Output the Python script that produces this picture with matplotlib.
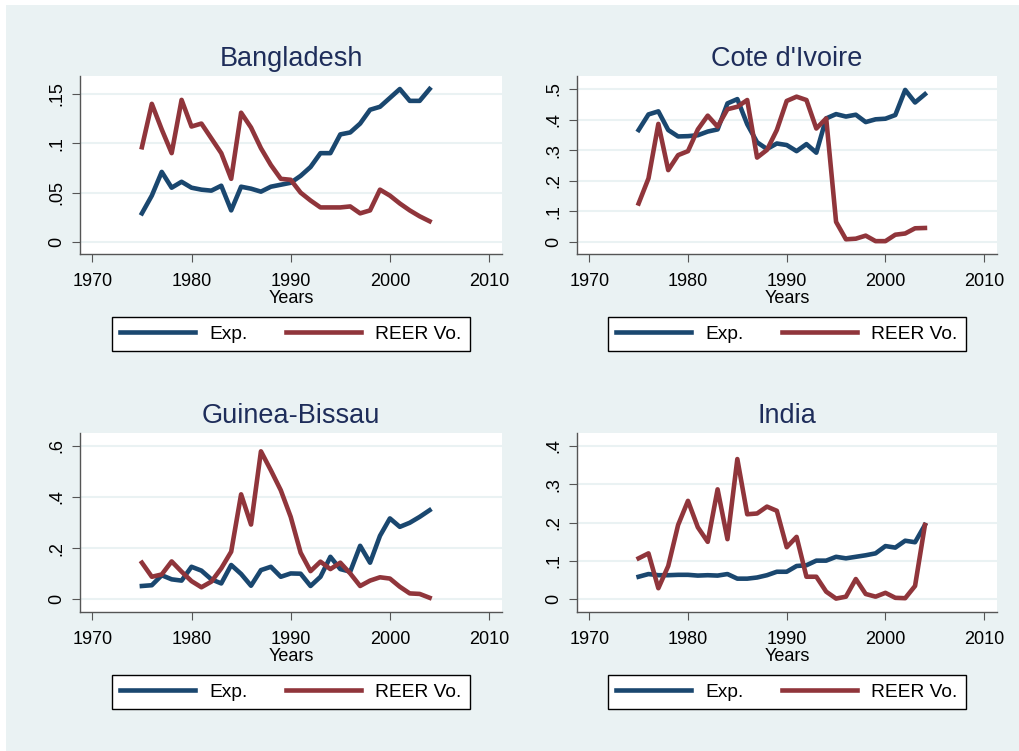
import numpy as np
import matplotlib
matplotlib.use("Agg")
import matplotlib.pyplot as plt
from matplotlib.patches import Rectangle

plt.rcParams['font.family'] = ['Liberation Sans', 'DejaVu Sans']

years = np.arange(1975, 2005)

countries = ["Bangladesh", "Cote d'Ivoire", "Guinea-Bissau", "India"]

bgd_exp = [0.029, 0.047, 0.071, 0.055, 0.061, 0.055, 0.053, 0.052, 0.057, 0.032,
           0.056, 0.054, 0.051, 0.056, 0.058, 0.060, 0.067, 0.076, 0.090, 0.090,
           0.109, 0.111, 0.120, 0.134, 0.137, 0.146, 0.155, 0.143, 0.143, 0.155]
bgd_reer = [0.096, 0.140, 0.114, 0.090, 0.144, 0.117, 0.120, 0.105, 0.090, 0.064,
            0.131, 0.116, 0.095, 0.078, 0.064, 0.063, 0.050, 0.042, 0.035, 0.035,
            0.035, 0.036, 0.029, 0.032, 0.053, 0.047, 0.039, 0.032, 0.026, 0.021]

civ_exp = [0.366, 0.417, 0.427, 0.366, 0.345, 0.346, 0.349, 0.361, 0.368, 0.453,
           0.467, 0.385, 0.326, 0.304, 0.322, 0.317, 0.297, 0.320, 0.292, 0.404,
           0.418, 0.410, 0.416, 0.392, 0.401, 0.403, 0.415, 0.497, 0.456, 0.483]
civ_reer = [0.126, 0.208, 0.386, 0.235, 0.284, 0.297, 0.368, 0.413, 0.377, 0.434,
            0.442, 0.464, 0.276, 0.301, 0.366, 0.461, 0.475, 0.464, 0.371, 0.404,
            0.066, 0.009, 0.011, 0.021, 0.003, 0.003, 0.024, 0.028, 0.045, 0.046]

gnb_exp = [0.052, 0.055, 0.094, 0.078, 0.073, 0.127, 0.112, 0.078, 0.062, 0.134,
           0.099, 0.053, 0.114, 0.127, 0.088, 0.101, 0.100, 0.052, 0.088, 0.166,
           0.118, 0.108, 0.209, 0.143, 0.248, 0.316, 0.283, 0.299, 0.322, 0.348]
gnb_reer = [0.143, 0.088, 0.097, 0.148, 0.108, 0.071, 0.047, 0.069, 0.121, 0.186,
            0.410, 0.292, 0.578, 0.504, 0.426, 0.322, 0.182, 0.110, 0.147, 0.118,
            0.143, 0.101, 0.052, 0.073, 0.086, 0.081, 0.049, 0.023, 0.021, 0.006]

ind_exp = [0.059, 0.066, 0.063, 0.063, 0.064, 0.064, 0.062, 0.063, 0.062, 0.066,
           0.054, 0.054, 0.057, 0.063, 0.072, 0.072, 0.087, 0.089, 0.101, 0.101,
           0.111, 0.107, 0.111, 0.115, 0.120, 0.139, 0.135, 0.153, 0.149, 0.194]
ind_reer = [0.107, 0.120, 0.029, 0.087, 0.194, 0.257, 0.188, 0.150, 0.287, 0.157,
            0.366, 0.222, 0.224, 0.242, 0.231, 0.136, 0.163, 0.059, 0.059, 0.020,
            0.002, 0.007, 0.053, 0.014, 0.007, 0.017, 0.004, 0.003, 0.035, 0.194]

exp_series = [bgd_exp, civ_exp, gnb_exp, ind_exp]
reer_series = [bgd_reer, civ_reer, gnb_reer, ind_reer]

yticks = [[0, 0.05, 0.1, 0.15], [0, 0.1, 0.2, 0.3, 0.4, 0.5],
          [0, 0.2, 0.4, 0.6], [0, 0.1, 0.2, 0.3, 0.4]]
ytick_labels = [["0", ".05", ".1", ".15"], ["0", ".1", ".2", ".3", ".4", ".5"],
                ["0", ".2", ".4", ".6"], ["0", ".1", ".2", ".3", ".4"]]
ylims = [(-0.0122, 0.1682), (-0.039, 0.5425), (-0.0496, 0.6496), (-0.033, 0.434)]
xticks = [1970, 1980, 1990, 2000, 2010]

W, H = 1019, 751
BG = "#eaf2f3"
BLUE = "#1a476f"
RED = "#90353b"
TITLE = "#1e2d5a"

fig = plt.figure(figsize=(W / 100, H / 100), dpi=100, facecolor="white")
fig.patches.append(Rectangle((6 / W, 0), 1 - 6 / W, 1 - 5 / H, transform=fig.transFigure,
                             facecolor=BG, edgecolor="none", zorder=-10))

# axes boxes in pixels: left, top, right, bottom
boxes = [(80, 76, 502, 254), (577, 76, 997, 254),
         (80, 433, 502, 612), (577, 433, 997, 612)]

for i, (l, t, r, b) in enumerate(boxes):
    ax = fig.add_axes([l / W, 1 - b / H, (r - l) / W, (b - t) / H])
    ax.set_facecolor("white")
    ax.plot(years, exp_series[i], color=BLUE, lw=3.3, solid_joinstyle="round", label="Exp.")
    ax.plot(years, reer_series[i], color=RED, lw=3.3, solid_joinstyle="round", label="REER Vo.")
    ax.set_xlim(1968.76, 2011.3)
    ax.set_ylim(*ylims[i])
    ax.set_xticks(xticks)
    ax.set_xticklabels([str(x) for x in xticks], fontsize=13)
    ax.set_yticks(yticks[i])
    ax.set_yticklabels(ytick_labels[i], fontsize=13, rotation=90, va="center")
    ax.grid(axis="y", color=BG, lw=1.5)
    ax.set_axisbelow(True)
    for s in ["top", "right"]:
        ax.spines[s].set_visible(False)
    for s in ["left", "bottom"]:
        ax.spines[s].set_color("#555555")
        ax.spines[s].set_linewidth(1.0)
    ax.tick_params(direction="out", length=5.5, width=0.8, color="#555555", pad=8)
    ax.tick_params(axis="y", pad=5)
    ax.set_xlabel("Years", fontsize=13, labelpad=0.5)
    ax.set_title(countries[i], fontsize=19.5, color=TITLE, pad=7)

    cx = (l + r) / 2 / W
    cy = 1 - (b + 80) / H
    leg = fig.legend(ax.get_lines(), ["Exp.", "REER Vo."], loc="center",
                     bbox_to_anchor=(cx, cy), ncol=2, fontsize=13.8, frameon=True,
                     fancybox=False, edgecolor="black", facecolor="white",
                     handlelength=3.9, handletextpad=0.75, columnspacing=2.0,
                     borderpad=0.45, borderaxespad=0)
    leg.get_frame().set_linewidth(1.0)
    leg.get_frame().set_alpha(1)

fig.savefig("out.png", dpi=100, facecolor="white")
